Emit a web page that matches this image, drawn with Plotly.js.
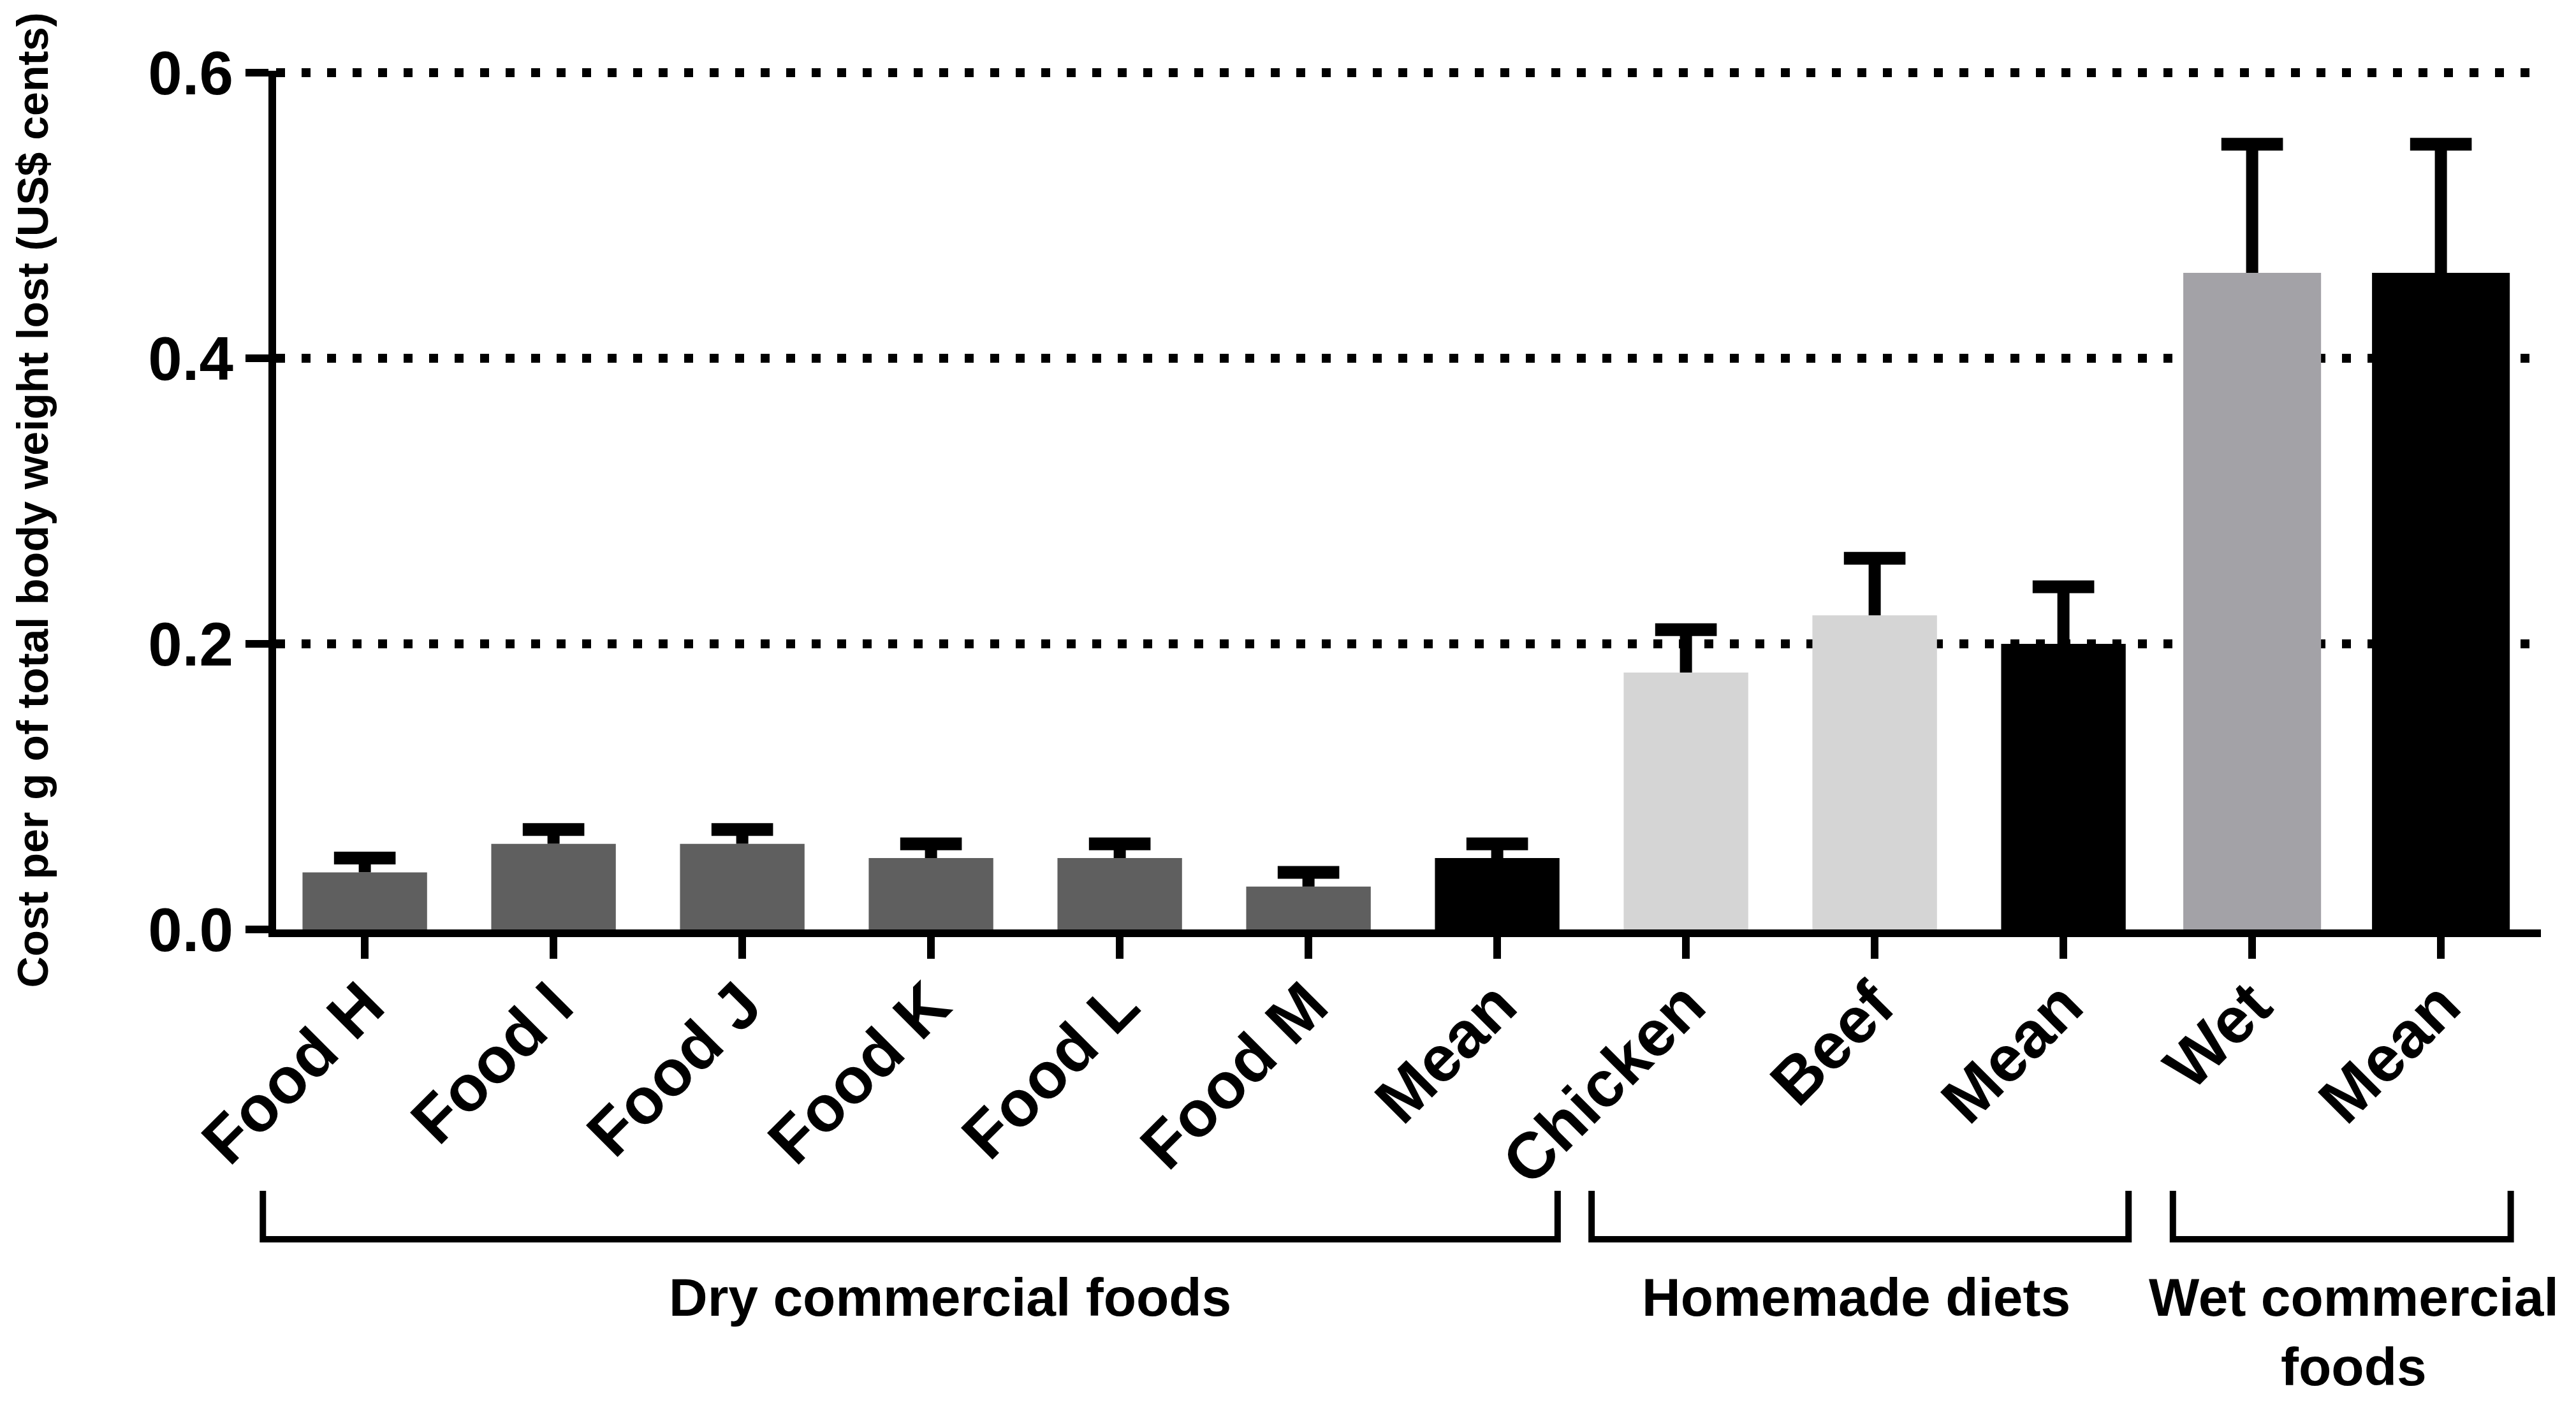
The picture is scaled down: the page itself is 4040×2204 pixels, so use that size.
<!DOCTYPE html>
<html>
<head>
<meta charset="utf-8">
<script src="https://cdn.plot.ly/plotly-3.0.1.min.js"></script>
<style>html,body{margin:0;padding:0;background:#fff;}#chart{width:4040px;height:2204px;}</style>
</head>
<body>
<div id="chart"></div>
<script>
// ---- data ----
const categories = ["Food H","Food I","Food J","Food K","Food L","Food M","Mean","Chicken","Beef","Mean","Wet","Mean"];
const costValues = [0.04,0.06,0.06,0.05,0.05,0.03,0.05,0.18,0.22,0.20,0.46,0.46];
const costErrors = [0.01,0.01,0.01,0.01,0.01,0.01,0.01,0.03,0.04,0.04,0.09,0.09];
const groupLabels = ["Dry commercial foods","Homemade diets","Wet commercial<br>foods"];
const yTickValues = [0,0.2,0.4,0.6];
const yTickLabels = ["0.0","0.2","0.4","0.6"];

// ---- styles ----
const DRY = "#5f5f5f", HOME = "#d5d5d5", WET = "#a3a2a7", MEAN = "#000000";
const barColors = [DRY,DRY,DRY,DRY,DRY,DRY,MEAN,HOME,HOME,MEAN,WET,MEAN];
const barWidths = [0.66,0.66,0.66,0.66,0.66,0.66,0.66,0.66,0.66,0.66,0.73,0.73];
const FONT = "Liberation Sans, Arial, Helvetica, sans-serif";
const X_RANGE = [-0.47, 11.53];

const xPos = categories.map((c,i)=>i);
const capY = costValues.map((v,i)=>v + costErrors[i]);

const bars = {
  type: "bar",
  x: xPos,
  y: costValues,
  width: barWidths,
  marker: {color: barColors, line: {width: 0}},
  error_y: {type: "data", array: costErrors, arrayminus: costValues.map(()=>0), symmetric: false,
            visible: true, color: "#000", thickness: 19, width: 0},
  hoverinfo: "skip",
  showlegend: false
};

// caps of the upper error bars
const caps = {
  type: "scatter", mode: "markers",
  x: xPos, y: capY,
  marker: {symbol: "line-ew", size: 69, color: "#000", line: {color: "#000", width: 20}},
  hoverinfo: "skip", showlegend: false, cliponaxis: false
};

// group brackets, given in x-axis units, converted to paper units
const toPaper = d => (d - X_RANGE[0]) / (X_RANGE[1] - X_RANGE[0]);
const brackets = [[-0.54, 6.32],[6.5, 9.345],[9.58, 11.37]];
const bTop = -0.3044, bBot = -0.3608;
const shapes = brackets.map(b => {
  const a = toPaper(b[0]), c = toPaper(b[1]);
  return {
    type: "path", xref: "paper", yref: "paper",
    path: `M ${a},${bTop} L ${a},${bBot} L ${c},${bBot} L ${c},${bTop}`,
    line: {color: "#000", width: 10}
  };
});

const groupX = [3.10, 7.90, 10.54];
const annotations = groupLabels.map((t,i)=>({
  text: t, xref: "x", yref: "paper", x: groupX[i], y: -0.392,
  yanchor: "top", xanchor: "center", showarrow: false, align: "center",
  font: {family: FONT, size: 84, color: "#000", weight: 700}
}));

const layout = {
  width: 4040, height: 2204,
  margin: {l: 433, r: 55, t: 111, b: 746, pad: 0},
  paper_bgcolor: "#fff", plot_bgcolor: "#fff",
  font: {family: FONT, color: "#000", weight: 700},
  xaxis: {
    range: X_RANGE,
    tickmode: "array", tickvals: xPos, ticktext: categories,
    tickangle: -45,
    ticks: "outside", ticklen: 34, tickwidth: 12, tickcolor: "#000",
    showline: true, linewidth: 12, linecolor: "#000",
    showgrid: false, zeroline: false,
    ticklabelstandoff: -28,
    tickfont: {family: FONT, size: 102, color: "#000", weight: 700}
  },
  yaxis: {
    range: [0, 0.6015],
    tickmode: "array", tickvals: yTickValues, ticktext: yTickLabels,
    ticks: "outside", ticklen: 36, tickwidth: 12, tickcolor: "#000",
    showline: true, linewidth: 12, linecolor: "#000",
    showgrid: true, gridcolor: "#000", gridwidth: 14, griddash: "14px,26px",
    zeroline: false,
    tickfont: {family: FONT, size: 96, color: "#000", weight: 700},
    title: {text: "Cost per g of total body weight lost (US$ cents)", standoff: 140,
            font: {family: FONT, size: 68, color: "#000", weight: 700}}
  },
  shapes: shapes,
  annotations: annotations
};

Plotly.newPlot("chart", [bars, caps], layout, {staticPlot: true, displayModeBar: false});
</script>
</body>
</html>
